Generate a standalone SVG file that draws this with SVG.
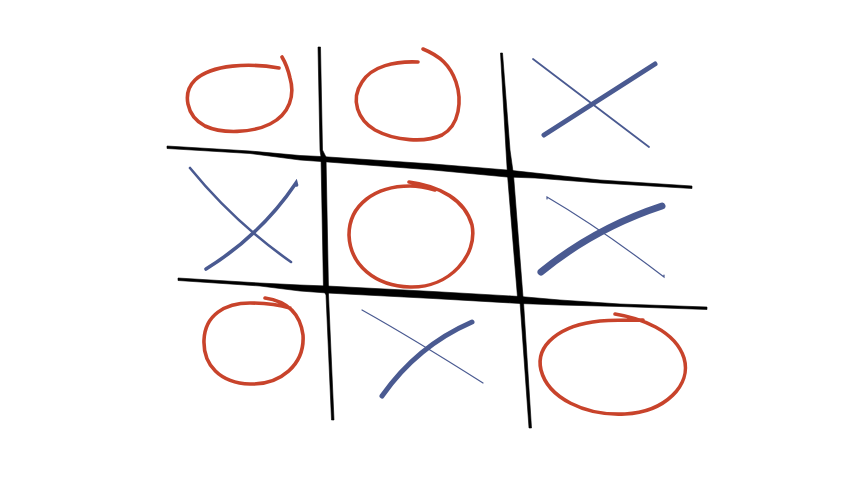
<svg xmlns="http://www.w3.org/2000/svg" width="852" height="480" viewBox="0 0 852 480">
<style>
.o{fill:none;stroke:#c8432b;stroke-width:3.6;stroke-linecap:round;stroke-linejoin:round}
.x{fill:none;stroke:#4a5a91;stroke-linecap:round}
.g{fill:#000;stroke:#000;stroke-width:0.6;stroke-linejoin:round}
</style>
<rect width="852" height="480" fill="#fff"/>
<g id="grid">
<path class="g" d="M167,146 L250,151 L300,155.5 L321,156.5 L433,164 L507,170 L535,173 L600,180 L692,186 L692,188.5 L600,183 L535,178 L507,177 L433,170 L321,161.5 L300,160 L250,153.5 L167,148.5 Z"/>
<path class="g" d="M178,278 L260,283 L300,285 L327,286 L433,291.5 L520,296.5 L560,300 L620,304 L707,307 L707,309.5 L620,306.5 L560,305 L520,303.5 L433,298.5 L327,293 L300,291 L260,286 L178,280.5 Z"/>
<path class="g" d="M318,47 L320,150 L321,157 L323.5,290 L326,295 L331.5,420 L334,420 L328.5,295 L328.5,290 L326,157 L322.5,150 L320.5,47 Z"/>
<path class="g" d="M500.5,53 L506,150 L507.5,175 L517.5,297 L520,302 L529,428 L531.5,428 L523.5,302 L523,297 L513.5,175 L510,150 L502.5,53 Z"/>
</g>
<g id="o-top-left"><path class="o" d="M279,68 C250,63 212,64 195,80 C182,93 186,116 205,126 C222,134 252,133 270,124 C290,114 295,95 290,78 C288,69 285,62 282,57"/></g>
<g id="o-top-middle"><path class="o" d="M418,62 C395,61 372,66 362,82 C350,100 358,120 375,130 C395,141 425,143 442,135 C460,125 462,100 456,82 C450,65 440,56 423,49"/></g>
<g id="x-top-right">
<path class="x" stroke-width="1.8" d="M533,59 L649,147"/>
<path class="x" stroke-width="5" d="M544,135 L655,64"/>
</g>
<g id="x-middle-left">
<path class="x" stroke-width="2.6" d="M190,168 Q234,222 291,262"/>
<path class="x" stroke-width="3.6" d="M206,269 Q261,235 296,183 L296.5,185"/>
</g>
<g id="o-center"><path class="o" d="M409,182 C440,186 465,200 472,225 C478,255 450,288 410,287 C375,286 350,265 349,235 C349,205 375,186 410,186 C420,186 428,188 435,190"/></g>
<g id="x-middle-right">
<path class="x" stroke-width="1.2" d="M547,199 L547,197 Q600,228 664,277 L664,275"/>
<path class="x" stroke-width="7" stroke-linecap="butt" d="M541,272 Q595,228 662,206"/>
</g>
<g id="o-bottom-left"><path class="o" d="M265,298 C285,301 300,312 303,335 C305,365 280,385 250,384 C220,383 203,365 204,340 C205,315 225,303 250,303 C265,303 280,305 290,308"/></g>
<g id="x-bottom-middle">
<path class="x" stroke-width="1.2" d="M362,310 Q412,338 483,383"/>
<path class="x" stroke-width="5" d="M382,396 Q417,346 472,322"/>
</g>
<g id="o-bottom-right"><path class="o" d="M615,314 C640,318 675,330 684,358 C692,385 665,412 625,414 C585,416 548,398 541,370 C535,345 560,325 600,321 C615,320 630,320 643,320"/></g>
</svg>
